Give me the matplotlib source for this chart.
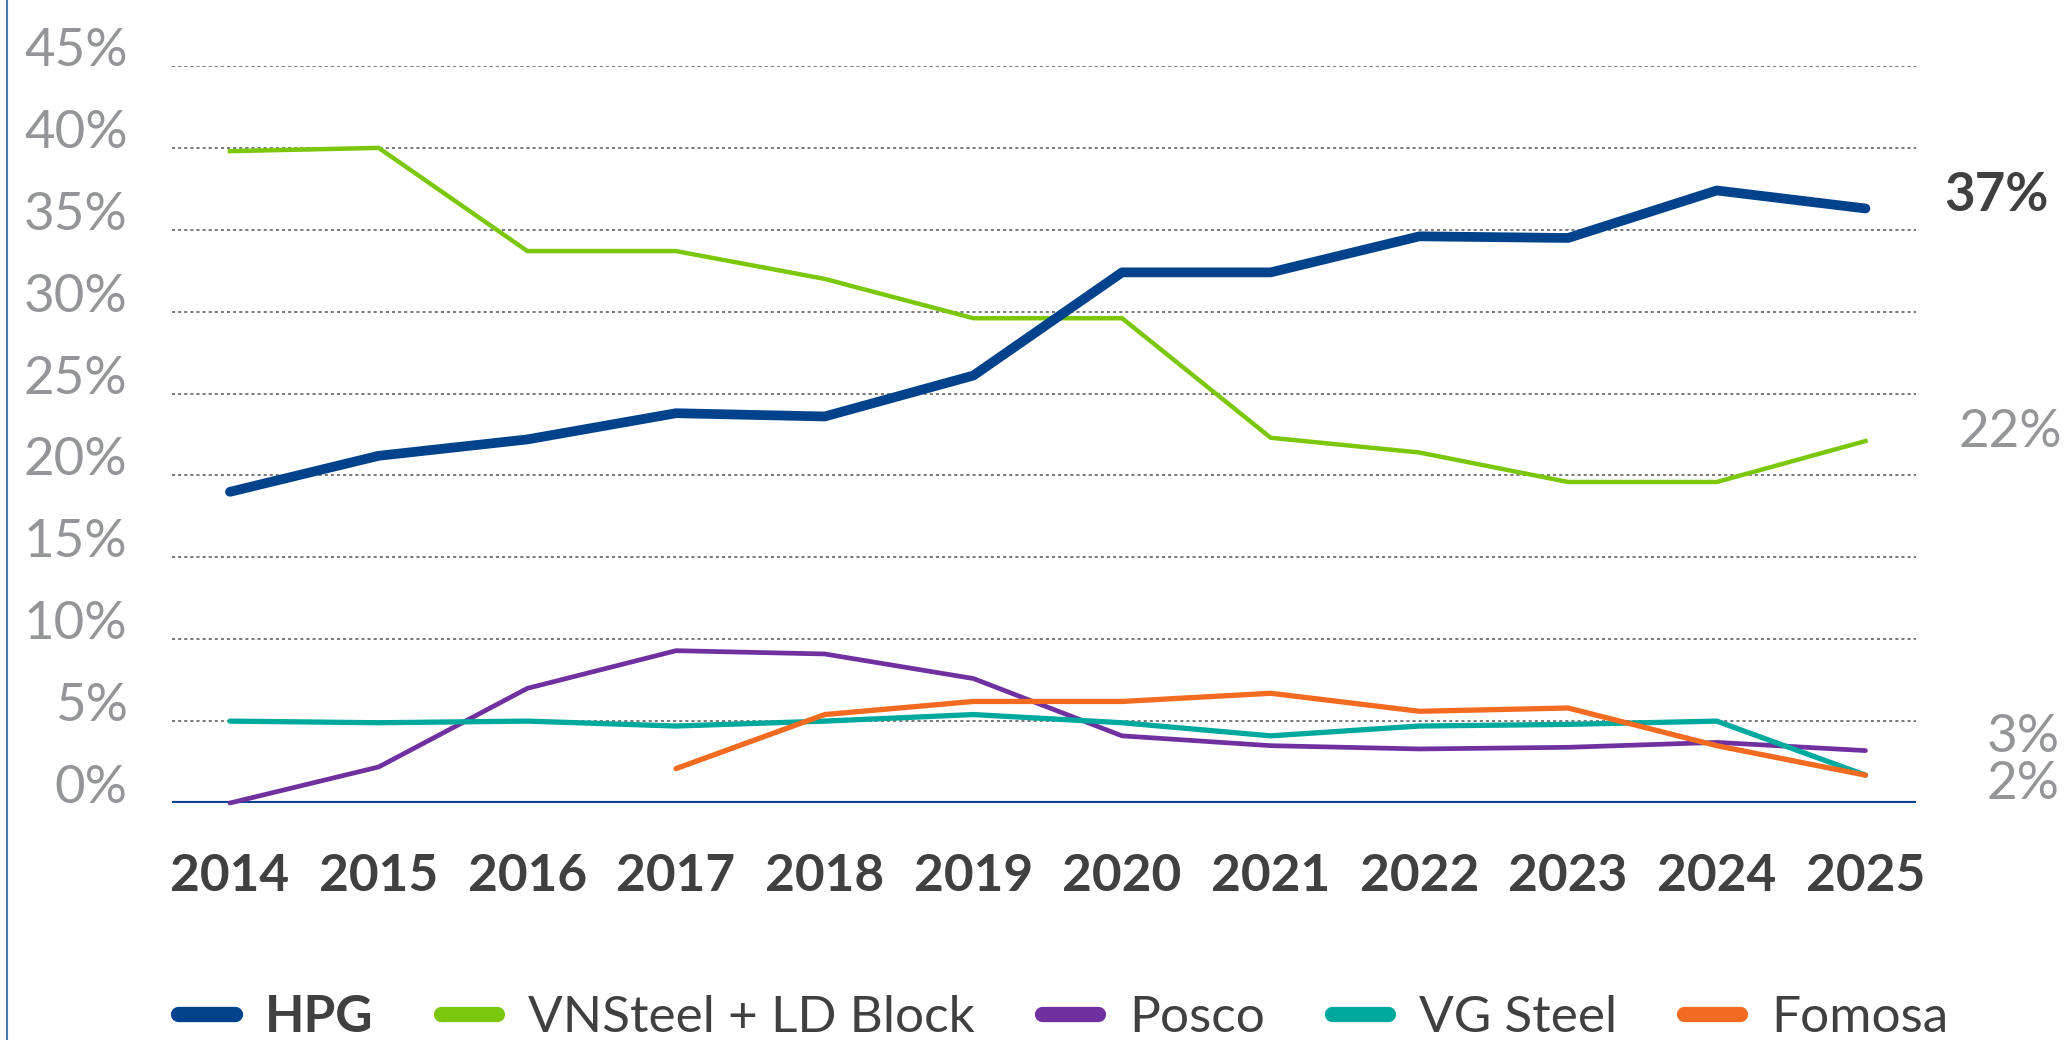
import matplotlib
matplotlib.use("Agg")
import matplotlib.pyplot as plt
from matplotlib.lines import Line2D

plt.rcParams["font.family"] = ["Lato", "DejaVu Sans"]

years = ["2014", "2015", "2016", "2017", "2018", "2019",
         "2020", "2021", "2022", "2023", "2024", "2025"]

hpg = [19.0, 21.2, 22.2, 23.8, 23.6, 26.1, 32.4, 32.4, 34.6, 34.5, 37.4, 36.3]
vnsteel = [39.8, 40.0, 33.7, 33.7, 32.0, 29.6, 29.6, 22.3, 21.4, 19.6, 19.6, 22.1]
posco = [0.0, 2.2, 7.0, 9.3, 9.1, 7.6, 4.1, 3.5, 3.3, 3.4, 3.7, 3.2]
vg_steel = [5.0, 4.9, 5.0, 4.7, 5.0, 5.4, 4.9, 4.1, 4.7, 4.8, 5.0, 1.7]
fomosa = [None, None, None, 2.1, 5.4, 6.2, 6.2, 6.7, 5.6, 5.8, 3.5, 1.7]

y_ticks = [0, 5, 10, 15, 20, 25, 30, 35, 40, 45]
y_tick_labels = [f"{t}%" for t in y_ticks]

end_labels = ["37%", "22%", "3%", "2%"]

BLUE = "#00428c"
GREEN = "#7ac70c"
PURPLE = "#7030a0"
TEAL = "#00a99d"
ORANGE = "#f26b21"
GRAY = "#939598"
DARK = "#404040"

fig = plt.figure(figsize=(20.67, 10.4), dpi=100)
ax = fig.add_axes([172 / 2067, 1 - 803 / 1040, (1916 - 172) / 2067, (803 - 66) / 1040])

x = list(range(len(years)))
fx = [i for i, v in zip(x, fomosa) if v is not None]
fy = [v for v in fomosa if v is not None]

# gridlines first so the series sit on top
for t in y_ticks[1:]:
    ax.axhline(t, color="#555555", lw=1.1, ls=(0, (2, 2)), zorder=1)
ax.axhline(0, color=BLUE, lw=3, zorder=2)

ax.plot(x, vnsteel, color=GREEN, lw=3.2, zorder=3, clip_on=False, label="VNSteel + LD Block")
ax.plot(x, posco, color=PURPLE, lw=3.4, zorder=3, clip_on=False, label="Posco",
        solid_capstyle="round")
ax.plot(x, vg_steel, color=TEAL, lw=3.8, zorder=3, clip_on=False, label="VG Steel",
        solid_capstyle="round")
ax.plot(fx, fy, color=ORANGE, lw=3.8, zorder=4, clip_on=False, label="Fomosa",
        solid_capstyle="round")
ax.plot(x, hpg, color=BLUE, lw=7, zorder=5, clip_on=False, label="HPG",
        solid_capstyle="round")

ax.set_xlim(-0.39, 11.34)
ax.set_ylim(0, 45)
for s in ax.spines.values():
    s.set_visible(False)

ax.set_yticks(y_ticks)
ax.set_yticklabels(y_tick_labels, va="baseline", color=GRAY, fontsize=38)
ax.tick_params(axis="y", length=0, pad=32)
ax.set_xticks(x)
ax.set_xticklabels(years, color=DARK, fontsize=37, fontweight="bold")
ax.tick_params(axis="x", length=0, pad=36)

# value labels at the right end
last = len(years) - 1
ax.annotate(end_labels[0], (last, hpg[-1]), xytext=(79, 13), textcoords="offset pixels",
            ha="left", va="center", fontsize=38, fontweight="bold", color=DARK)
ax.annotate(end_labels[1], (last, vnsteel[-1]), xytext=(93, 9), textcoords="offset pixels",
            ha="left", va="center", fontsize=38, color=GRAY)
ax.annotate(end_labels[2], (last, posco[-1]), xytext=(121, 13), textcoords="offset pixels",
            ha="left", va="center", fontsize=38, color=GRAY)
ax.annotate(end_labels[3], (last, vg_steel[-1]), xytext=(121, -9), textcoords="offset pixels",
            ha="left", va="center", fontsize=38, color=GRAY)

handles, labels = ax.get_legend_handles_labels()
order = [4, 0, 1, 2, 3]
leg = fig.legend([Line2D([], [], color=handles[i].get_color(), lw=11, solid_capstyle="round")
                  for i in order],
                 [labels[i] for i in order],
                 loc="center left", bbox_to_anchor=(178 / 2067, 1 - 1017 / 1040),
                 ncol=5, frameon=False, fontsize=37, borderpad=0, borderaxespad=0,
                 handlelength=1.1, handletextpad=0.6, columnspacing=1.3)
for t in leg.get_texts():
    t.set_color(DARK)
leg.get_texts()[0].set_fontweight("bold")

# thin border line on the left edge
fig.add_artist(Line2D([7 / 2067, 7 / 2067], [0, 1], transform=fig.transFigure,
                      color="#4a7ab5", lw=1.5))

fig.savefig("out.png", dpi=100)
